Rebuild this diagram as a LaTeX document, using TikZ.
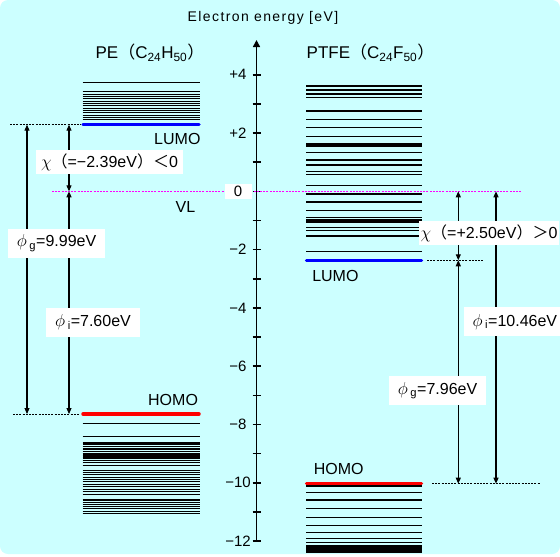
\documentclass[tikz,border=0pt]{standalone}
\usepackage{fontspec}
\setmainfont{Liberation Sans}
\newfontfamily\cjk{Noto Sans CJK JP}
\usetikzlibrary{arrows.meta}
\definecolor{fondo}{RGB}{204,255,255}
\definecolor{lumoazul}{RGB}{0,0,255}
\definecolor{homorojo}{RGB}{255,0,0}
\definecolor{vlmagenta}{RGB}{255,0,255}
\newcommand{\fwl}{{\cjk （}}
\newcommand{\fwr}{{\cjk ）}}
\newcommand{\fwlt}{{\cjk ＜}}
\newcommand{\fwgt}{{\cjk ＞}}
\newcommand{\gphi}{{\fontsize{19}{20}\selectfont$\phi$}}
\newcommand{\gchi}{{\fontsize{19}{20}\selectfont$\chi$}}

\begin{document}
\begin{tikzpicture}[x=1pt, y=29.15pt, >={Triangle[length=6pt,width=5pt]}, line width=1.1pt,
    nivel/.style={line width=1.1pt},
    frontera/.style={line width=3.5pt, line cap=round},
    guia/.style={line width=0.9pt, dash pattern=on 2pt off 1.2pt},
    etiq/.style={inner sep=0pt, font=\fontsize{16}{18}\selectfont},
    caja/.style={fill=white, font=\fontsize{16}{18}\selectfont, minimum height=29pt, inner xsep=9pt},
    cajachi/.style={fill=white, font=\fontsize{16}{18}\selectfont, minimum height=21pt, inner xsep=2pt},
    marca/.style={font=\fontsize{15}{17}\selectfont, inner sep=2pt}]
    \fill[white] (0,-12.511) rectangle (560,6.563);
    \fill[fondo, rounded corners=8pt] (0,-12.443) rectangle (560,6.563);
    \useasboundingbox (0,-12.511) rectangle (560,6.563);
    % energy axis
    \draw[-{Triangle[length=7pt,width=7pt]}, line width=1.6pt] (256.5,-12) -- (256.5,5.19);
    \foreach \e in {-12,...,4} \draw[line width=1.6pt] (252.5,\e) -- (260.5,\e);
    \node[anchor=base, font=\fontsize{14}{16}\selectfont\addfontfeature{LetterSpace=10}] (titulo) at (263,5.81) {Electron energy [eV]};
    % vacuum level
    \draw[guia, vlmagenta, line width=1pt] (52,0) -- (522,0);
    \foreach \e/\t in {4/+4, 2/+2, -2/−2, -4/−4, -6/−6, -8/−8, -10/−10, -12/−12}
        \node[marca] (m\e) at (238,\e) {\t};
    \node[marca, fill=white, minimum width=27pt, minimum height=14pt] (m0) at (238,0) {0};
    % PE levels
    \node[anchor=base, font=\fontsize{17}{19}\selectfont] (tPE) at (150,4.556) {PE\fwl C\textsubscript{24}H\textsubscript{50}\fwr};
    \draw[nivel] (82.5,3.73) -- (199.5,3.73);
    \foreach \i in {0,...,12} \draw[nivel] (82.5,{2.45+0.08*\i}) -- (199.5,{2.45+0.08*\i});
    \foreach \e in {-7.98,-8.42,-8.62,-8.67,-8.74,-8.81,-8.87,-8.94,-9.01,-9.08,-9.15,-9.22,-9.31,-9.40,
        -9.58,-9.65,-9.73,-9.81,-9.89,-9.97,-10.05,-10.13,-10.22,-10.31,-10.39,
        -10.59,-10.67,-10.74,-10.81,-10.89,-10.97,-11.05}
        \draw[nivel] (82.5,\e) -- (199.5,\e);
    \draw[frontera, lumoazul] (83,2.285) -- (199,2.285);
    \draw[frontera, homorojo] (83,-7.64) -- (199,-7.64);
    % PTFE levels
    \node[anchor=base, font=\fontsize{17}{19}\selectfont] (tTF) at (370.5,4.556) {PTFE\fwl C\textsubscript{24}F\textsubscript{50}\fwr};
    \foreach \e in {3.612,3.475,3.338,3.211,2.755,2.470,2.182,1.880,1.647,1.588,1.530,1.338,1.074,0.902,
        0.672,0.583,0.192,-0.093,-0.367,-0.665,-0.906,-0.984,-1.053,-1.235,-1.352,-1.533,-2.072,
        -10.11,-10.34,-10.59,-10.89,-11.18,-11.46,-11.71,-11.92,-12.05}
        \draw[nivel] (306,\e) -- (422,\e);
    \fill (306,-12.14) rectangle (422,-12.41);
    \draw[frontera, lumoazul] (306.5,-2.365) -- (421.5,-2.365);
    \draw[frontera, homorojo] (306.5,-10.03) -- (421.5,-10.03);
    % guides
    \draw[guia] (10,2.285) -- (81,2.285);
    \draw[guia] (13,-7.64) -- (80,-7.64);
    \draw[guia] (427,-2.365) -- (483,-2.365);
    \draw[guia] (432,-10.03) -- (540,-10.03);
    % gaps
    \coordinate (gPEa) at (27,2.285);   \coordinate (gPEb) at (27,-7.64);
    \coordinate (cPEa) at (69,2.285);   \coordinate (cPEb) at (69,0);
    \coordinate (iPEb) at (69,-7.64);
    \coordinate (cTFa) at (458.3,0);    \coordinate (cTFb) at (458.3,-2.365);
    \coordinate (gTFb) at (458.3,-10.03);
    \coordinate (iTFa) at (496,0);      \coordinate (iTFb) at (496,-10.03);
    \draw[<->] (gPEa) -- (gPEb);
    \draw[<->] (cPEa) -- (cPEb);
    \draw[<->] (cPEb) -- (iPEb);
    \draw[<->] (cTFa) -- (cTFb);
    \draw[<->] (cTFb) -- (gTFb);
    \draw[<->] (iTFa) -- (iTFb);
    % labels
    \node[etiq, anchor=base east] (lumoPE) at (201,1.623) {LUMO};
    \node[etiq, anchor=base] (vl) at (185.5,-0.72) {VL};
    \node[etiq, anchor=base east] (homoPE) at (198.5,-7.35) {HOMO};
    \node[etiq, anchor=base west] (lumoTF) at (311.7,-3.10) {LUMO};
    \node[etiq, anchor=base west] (homoTF) at (313.3,-9.70) {HOMO};
    \node[cajachi, minimum width=147pt] (chiPE) at (109.5,0.998) {\gchi\fwl=−2.39eV\fwr\fwlt 0};
    \node[caja] (phigPE) at (56.5,-1.774) {\gphi\,\textsubscript{g}=9.99eV};
    \node[caja] (phiiPE) at (93,-4.50) {\gphi\,\textsubscript{i}=7.60eV};
    \node[cajachi, anchor=east, minimum width=137pt] (chiTF) at (560,-1.43) {\gchi\fwl=+2.50eV\fwr\fwgt 0};
    \node[caja, anchor=west] (phiiTF) at (463,-4.473) {\gphi\,\textsubscript{i}=10.46eV};
    \node[caja] (phigTF) at (437.5,-6.844) {\gphi\,\textsubscript{g}=7.96eV};
\end{tikzpicture}
\end{document}
